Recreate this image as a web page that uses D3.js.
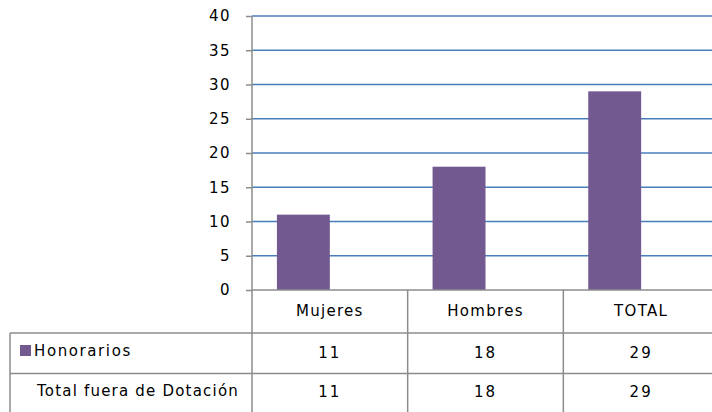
<!DOCTYPE html>
<html>
<head>
<meta charset="utf-8">
<script src="https://cdn.jsdelivr.net/npm/d3@7"></script>
<style>
  body { margin: 0; background: #fff; }
  text { font-family: "DejaVu Sans", sans-serif; fill: #000; }
</style>
</head>
<body>
<svg id="chart" width="712" height="412"></svg>
<script>
// Chart data
const categories = ['Mujeres', 'Hombres', 'TOTAL'];
const honorarios = [11, 18, 29];
const totalFuera = [11, 18, 29];
const yTicks = [0, 5, 10, 15, 20, 25, 30, 35, 40];
const rowLabels = ['Honorarios', 'Total fuera de Dotación'];

const svg = d3.select('#chart');
const plotLeft = 252, plotRight = 719, plotTop = 16, plotBottom = 290;
const tableLeft = 10, headerBottom = 333, rowH = 40.5;
const barColor = '#725990';
const gridColor = '#4a7ebb';
const lineColor = '#8c8c8c';
const fontSize = '15px';

const x = d3.scaleBand().domain(categories).range([plotLeft, plotRight]);
const y = d3.scaleLinear().domain([0, 40]).range([plotBottom, plotTop]);

// gridlines
svg.append('g')
  .selectAll('line')
  .data(yTicks.filter((d) => d > 0))
  .join('line')
  .attr('x1', plotLeft)
  .attr('x2', plotRight)
  .attr('y1', (d) => y(d))
  .attr('y2', (d) => y(d))
  .attr('stroke', gridColor)
  .attr('stroke-width', 1.5);

// bars (Excel leaves them off-centre in the band)
const bw = x.bandwidth();
svg.append('g')
  .selectAll('rect')
  .data(honorarios)
  .join('rect')
  .attr('x', (d, i) => x(categories[i]) + bw * 0.16)
  .attr('width', bw * 0.34)
  .attr('y', (d) => y(d))
  .attr('height', (d) => y(0) - y(d))
  .attr('fill', barColor);

// y axis
const yAxis = svg.append('g')
  .attr('transform', `translate(${plotLeft},0)`)
  .call(d3.axisLeft(y).tickValues(yTicks).tickSize(6).tickPadding(15));
yAxis.select('.domain').remove();
yAxis.selectAll('line').attr('stroke', lineColor).attr('stroke-width', 1.5);
yAxis.selectAll('text')
  .style('font-family', '"DejaVu Sans", sans-serif')
  .style('font-size', fontSize)
  .style('letter-spacing', '1.5px');

// data table
const table = svg.append('g');
const tableBottom = headerBottom + rowH * 2 + 5;

table.append('line')
  .attr('x1', plotLeft).attr('x2', plotLeft)
  .attr('y1', plotTop).attr('y2', tableBottom)
  .attr('stroke', lineColor).attr('stroke-width', 1.5);

table.append('line')
  .attr('x1', plotLeft).attr('x2', plotRight)
  .attr('y1', plotBottom).attr('y2', plotBottom)
  .attr('stroke', lineColor).attr('stroke-width', 1.5);

[headerBottom, headerBottom + rowH].forEach((yy) => {
  table.append('line')
    .attr('x1', tableLeft).attr('x2', plotRight)
    .attr('y1', yy).attr('y2', yy)
    .attr('stroke', lineColor).attr('stroke-width', 1.5);
});

table.append('line')
  .attr('x1', tableLeft).attr('x2', tableLeft)
  .attr('y1', headerBottom).attr('y2', tableBottom)
  .attr('stroke', lineColor).attr('stroke-width', 1.5);

categories.slice(1).forEach((c) => {
  table.append('line')
    .attr('x1', x(c)).attr('x2', x(c))
    .attr('y1', plotBottom).attr('y2', tableBottom)
    .attr('stroke', lineColor).attr('stroke-width', 1.5);
});

// header labels
table.selectAll('text.cat')
  .data(categories)
  .join('text')
  .attr('class', 'cat')
  .attr('x', (d) => x(d) + bw / 2)
  .attr('y', (plotBottom + headerBottom) / 2 - 1)
  .attr('dy', '0.35em')
  .attr('text-anchor', 'middle')
  .style('font-size', fontSize)
  .style('letter-spacing', '1.3px')
  .text((d) => d);

// value rows
[honorarios, totalFuera].forEach((vals, r) => {
  const cy = headerBottom + rowH * r + rowH / 2 - 1 - r;
  table.selectAll(`text.v${r}`)
    .data(vals)
    .join('text')
    .attr('class', `v${r}`)
    .attr('x', (d, i) => x(categories[i]) + bw / 2)
    .attr('y', cy)
    .attr('dy', '0.35em')
    .attr('text-anchor', 'middle')
    .style('font-size', fontSize)
    .style('letter-spacing', '2px')
    .text((d) => d);
});

// row labels + legend key
table.append('rect')
  .attr('x', 20).attr('y', headerBottom + 12)
  .attr('width', 11).attr('height', 11)
  .attr('fill', barColor);

rowLabels.forEach((t, r) => {
  table.append('text')
    .attr('x', r === 0 ? 34 : 37)
    .attr('y', headerBottom + rowH * r + rowH / 2 - 3)
    .attr('dy', '0.35em')
    .style('font-size', fontSize)
    .style('letter-spacing', r === 0 ? '1.6px' : '1.2px')
    .text(t);
});
</script>
</body>
</html>
